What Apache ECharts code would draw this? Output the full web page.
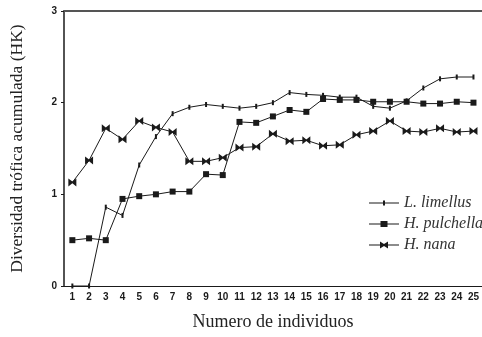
<!DOCTYPE html>
<html><head><meta charset="utf-8">
<script src="https://cdn.jsdelivr.net/npm/echarts@6/dist/echarts.min.js"></script>
<style>html,body{margin:0;padding:0;background:#fff}#c{width:482px;height:337px}</style>
</head><body><div id="c"></div>
<script>
const categories = ['1','2','3','4','5','6','7','8','9','10','11','12','13','14','15','16','17','18','19','20','21','22','23','24','25'];
const yTicks = [0, 1, 2, 3];
const limellus = [0, 0, 0.86, 0.77, 1.32, 1.63, 1.88, 1.95, 1.98, 1.96, 1.94, 1.96, 2.00, 2.11, 2.09, 2.08, 2.06, 2.06, 1.96, 1.94, 2.02, 2.16, 2.26, 2.28, 2.28];
const pulchella = [0.50, 0.52, 0.50, 0.95, 0.98, 1.00, 1.03, 1.03, 1.22, 1.21, 1.79, 1.78, 1.85, 1.92, 1.90, 2.04, 2.03, 2.03, 2.01, 2.01, 2.01, 1.99, 1.99, 2.01, 2.00];
const nana = [1.13, 1.37, 1.72, 1.60, 1.80, 1.73, 1.68, 1.36, 1.36, 1.40, 1.51, 1.52, 1.66, 1.58, 1.59, 1.53, 1.54, 1.65, 1.69, 1.80, 1.69, 1.68, 1.72, 1.68, 1.69];
const seriesNames = ['L. limellus', 'H. pulchella', 'H. nana'];

const ink = '#1a1a1a';
const serif = '"Liberation Serif", "DejaVu Serif", serif';
const bowtie = 'path://M0,0L5,4L10,0L10,10L5,6L0,10Z';
const legendIcons = [
  'path://M0,4.5H30V5.5H0Z M14,2.5H16V7.5H14Z',
  'path://M0,4.5H30V5.5H0Z M11.5,2H18.5V8H11.5Z',
  'path://M0,4.5H30V5.5H0Z M11,1.5L15,4L19,1.5L19,8.5L15,6L11,8.5Z'
];

const chart = echarts.init(document.getElementById('c'), null, {renderer: 'canvas'});
function mk(name, data, symbol, size) {
  return {
    name, type: 'line', data, symbol, symbolSize: size, showSymbol: true,
    lineStyle: {color: ink, width: 1},
    itemStyle: {color: ink, borderWidth: 0},
    emphasis: {disabled: true}, animation: false
  };
}
chart.setOption({
  backgroundColor: '#fff',
  animation: false,
  grid: {left: 63, right: 0, top: 11, bottom: 51, containLabel: false},
  legend: {
    orient: 'vertical', left: 364, top: 190, itemWidth: 30, itemHeight: 10, itemGap: 5,
    textStyle: {fontFamily: serif, fontStyle: 'italic', fontSize: 16, color: '#333'},
    data: seriesNames.map((n, i) => ({name: n, icon: legendIcons[i]}))
  },
  xAxis: [{
    type: 'category', data: categories, boundaryGap: true,
    name: 'Numero de individuos', nameLocation: 'middle', nameGap: 27,
    nameTextStyle: {fontFamily: serif, fontSize: 18, color: '#222'},
    axisLine: {lineStyle: {color: ink, width: 1.2}},
    axisTick: {alignWithLabel: true, length: 3, lineStyle: {color: ink}},
    axisLabel: {fontFamily: '"Liberation Sans", Arial, sans-serif', fontWeight: 'bold', fontSize: 10, color: ink, margin: 6, interval: 0}
  }, {
    type: 'category', data: categories, position: 'top', boundaryGap: true,
    axisLine: {lineStyle: {color: '#555', width: 2}},
    axisTick: {show: false}, axisLabel: {show: false}
  }],
  yAxis: {
    type: 'value', min: yTicks[0], max: yTicks[yTicks.length - 1], interval: 1,
    name: 'Diversidad trófica acumulada (HK)', nameLocation: 'middle', nameGap: 38,
    nameTextStyle: {fontFamily: serif, fontSize: 17.5, color: '#222'},
    axisLine: {show: true, lineStyle: {color: ink, width: 1.5}},
    axisTick: {show: true, length: 3, lineStyle: {color: ink}},
    axisLabel: {fontFamily: '"Liberation Sans", Arial, sans-serif', fontWeight: 'bold', fontSize: 10, color: ink, margin: 7},
    splitLine: {show: false}
  },
  series: [
    mk(seriesNames[0], limellus, 'rect', [2, 5]),
    mk(seriesNames[1], pulchella, 'rect', 6),
    mk(seriesNames[2], nana, bowtie, 8)
  ]
});
</script></body></html>
